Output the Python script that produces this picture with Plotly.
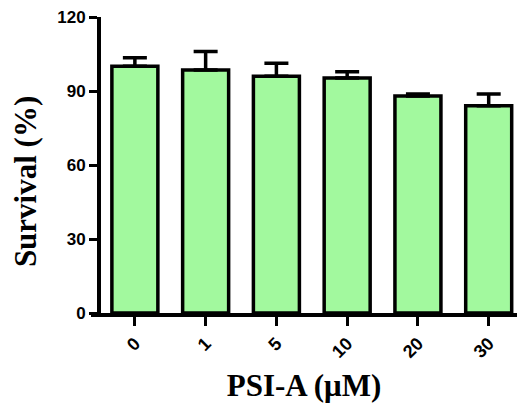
import plotly.graph_objects as go

categories = ["0", "1", "5", "10", "20", "30"]
survival = [100.0, 98.5, 96.0, 95.3, 88.0, 84.0]
sem = [3.5, 7.5, 5.3, 2.5, 0.8, 4.8]
y_ticks = [0, 30, 60, 90, 120]

fig = go.Figure()
fig.add_trace(go.Bar(
    x=categories,
    y=survival,
    width=0.65,
    marker=dict(color="#a2f99e", line=dict(color="black", width=3.5)),
    error_y=dict(type="data", symmetric=False, array=sem,
                 arrayminus=[0] * len(sem), color="black",
                 thickness=3.5, width=12),
))

fig.update_layout(
    width=519, height=416,
    margin=dict(l=91, r=2, t=17, b=103),
    paper_bgcolor="white", plot_bgcolor="white",
    showlegend=False,
    bargap=0.35,
    xaxis=dict(
        type="category",
        range=[-0.62, 5.4],
        showline=True, linecolor="black", linewidth=4,
        ticks="outside", ticklen=9, tickwidth=3, tickcolor="black",
        tickangle=-45,
        tickfont=dict(family="Liberation Sans", size=18, color="black", weight="bold"),
        showgrid=False, zeroline=False,
        title=dict(text="<b>PSI-A (μM)</b>", standoff=14,
                   font=dict(family="Liberation Serif", size=31, color="black")),
    ),
    yaxis=dict(
        range=[0, 120],
        anchor="free", position=8 / 426,
        tickvals=y_ticks,
        showline=True, linecolor="black", linewidth=4,
        ticks="outside", ticklen=8, tickwidth=3, tickcolor="black",
        tickfont=dict(family="Liberation Sans", size=17, color="black", weight="bold"),
        showgrid=False, zeroline=False,
    ),
    annotations=[dict(
        text="<b>Survival (%)</b>", textangle=-90,
        xref="paper", yref="paper", x=-0.152, y=0.443,
        xanchor="center", yanchor="middle", showarrow=False,
        font=dict(family="Liberation Serif", size=31, color="black"),
    )],
)

fig.write_html("out.html")
